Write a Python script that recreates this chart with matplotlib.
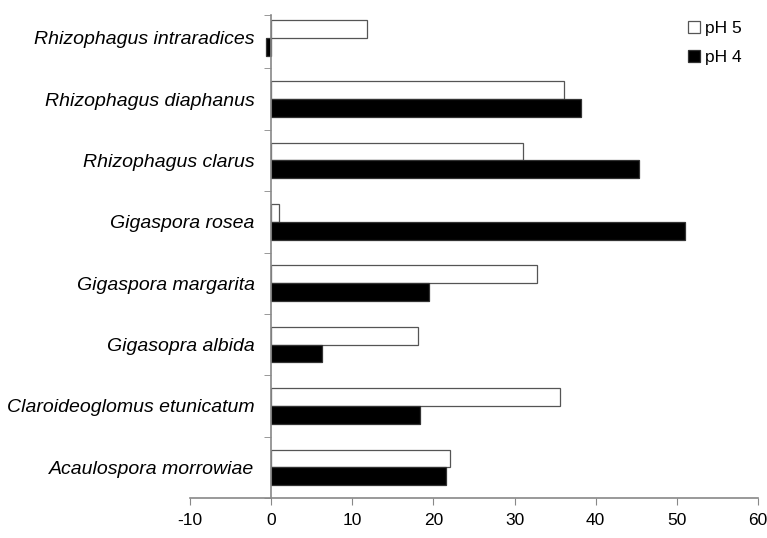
import matplotlib
matplotlib.use("Agg")
import matplotlib.pyplot as plt
import numpy as np

species = ['Acaulospora morrowiae', 'Claroideoglomus etunicatum', 'Gigasopra albida',
           'Gigaspora margarita', 'Gigaspora rosea', 'Rhizophagus clarus',
           'Rhizophagus diaphanus', 'Rhizophagus intraradices']
ph5 = [22.1, 35.6, 18.1, 32.8, 1.0, 31.0, 36.1, 11.8]
ph4 = [21.6, 18.3, 6.2, 19.5, 51.0, 45.4, 38.2, -0.7]

plt.rcParams['font.family'] = ['Liberation Sans', 'DejaVu Sans']
plt.rcParams['axes.unicode_minus'] = False

fig = plt.figure(figsize=(7.67, 5.38), dpi=100)
ax = fig.add_axes([0.248, 0.0743, 0.74, 0.8978])

# spine position first: moving it resets the ticks
for s in ['top', 'right']:
    ax.spines[s].set_visible(False)
ax.spines['left'].set_position(('data', 0))
for s in ['left', 'bottom']:
    ax.spines[s].set_color('#888888')
    ax.spines[s].set_linewidth(1.2)

y = np.arange(len(species))
h = 0.29
ax.barh(y + h / 2, ph5, height=h, color='white', edgecolor='#555555', linewidth=0.9, label='pH 5')
ax.barh(y - h / 2, ph4, height=h, color='black', edgecolor='#333333', linewidth=0.9, label='pH 4')

top = len(species) - 0.63
ax.set_xlim(-10, 60)
ax.set_ylim(-0.5, top)
ax.set_xticks(range(-10, 61, 10))
ax.set_yticks(y)
ax.set_yticks(list(np.arange(-0.5, len(species) - 1, 1)) + [top], minor=True)
ax.tick_params(axis='y', which='major', length=0, pad=12)
ax.tick_params(axis='y', which='minor', length=5, color='#888888', direction='out')
ax.tick_params(axis='x', length=5, color='#888888', direction='out', labelsize=12.5, pad=6)
ax.set_yticklabels(species, fontstyle='italic', fontsize=14)

ax.legend(loc='upper right', frameon=False, fontsize=12.5, handlelength=0.7, handleheight=0.7,
          handletextpad=0.3, labelspacing=0.8, bbox_to_anchor=(1.0, 1.02))

fig.savefig('out.png', dpi=100)
